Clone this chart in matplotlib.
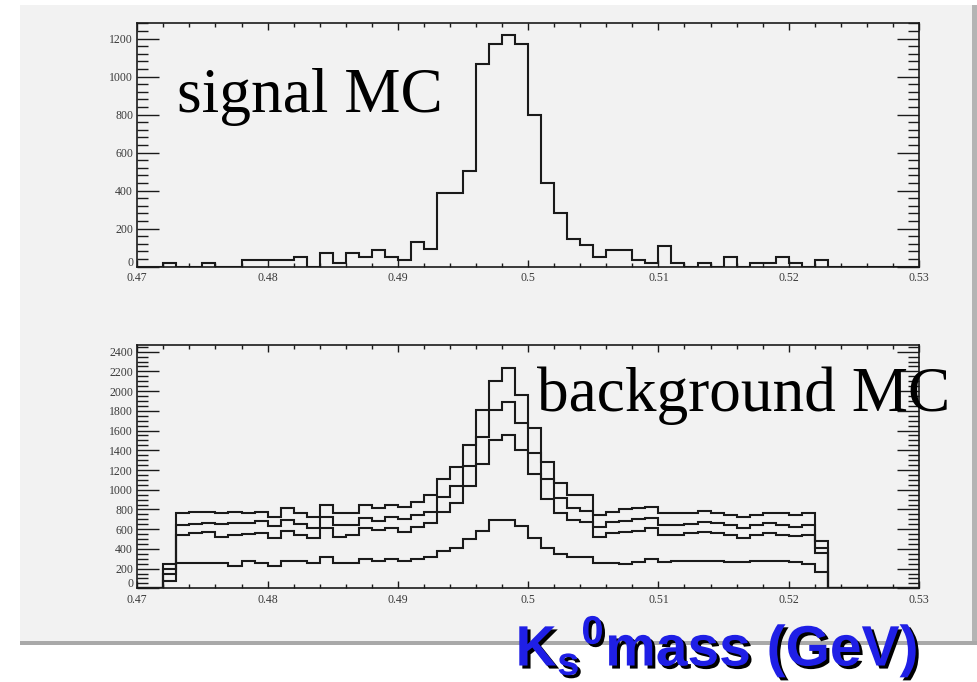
import numpy as np
import matplotlib
matplotlib.use("Agg")
import matplotlib.pyplot as plt
import matplotlib.patheffects as pe
import matplotlib.transforms as mtransforms
from matplotlib.patches import Rectangle
from matplotlib.ticker import MultipleLocator

W, H = 978, 682

# ---------- DATA (60 bins, 0.47 - 0.53 GeV) ----------
edges = np.linspace(0.47, 0.53, 61)

signal_mc = [0, 0, 18, 0, 0, 18, 0, 0, 35, 35,
             35, 35, 53, 0, 70, 18, 70, 53, 88, 53,
             35, 132, 93, 387, 387, 506, 1068, 1172, 1221, 1172,
             800, 439, 285, 146, 112, 51, 86, 86, 35, 18,
             111, 18, 0, 18, 0, 51, 0, 18, 18, 51,
             18, 0, 35, 0, 0, 0, 0, 0, 0, 0]

bkg_1 = [0, 0, 246, 761, 778, 778, 761, 778, 761, 778,
         727, 811, 761, 727, 845, 761, 761, 845, 811, 845,
         828, 879, 947, 1105, 1227, 1457, 1809, 2103, 2231, 1961,
         1623, 1285, 1071, 946, 946, 744, 778, 801, 811, 828,
         761, 761, 761, 788, 767, 744, 727, 744, 761, 761,
         744, 761, 480, 0, 0, 0, 0, 0, 0, 0]

bkg_2 = [0, 0, 193, 642, 652, 666, 652, 659, 666, 683,
         632, 693, 652, 608, 727, 642, 642, 710, 686, 727,
         700, 744, 778, 930, 1041, 1244, 1538, 1809, 1893, 1680,
         1376, 1105, 912, 811, 788, 625, 676, 686, 700, 710,
         642, 642, 652, 676, 659, 642, 608, 642, 659, 642,
         625, 642, 412, 0, 0, 0, 0, 0, 0, 0]

bkg_3 = [0, 0, 142, 541, 558, 568, 524, 541, 551, 558,
         507, 585, 541, 507, 608, 524, 541, 608, 592, 608,
         575, 625, 660, 775, 869, 1041, 1261, 1504, 1555, 1403,
         1160, 903, 767, 693, 676, 524, 558, 575, 585, 608,
         541, 541, 558, 575, 558, 541, 507, 541, 558, 541,
         531, 541, 355, 0, 0, 0, 0, 0, 0, 0]

bkg_4 = [0, 0, 77, 260, 260, 260, 260, 227, 281, 260,
         227, 281, 281, 260, 314, 260, 260, 297, 281, 297,
         281, 294, 314, 382, 412, 497, 585, 688, 696, 632,
         507, 412, 352, 321, 321, 260, 260, 243, 270, 295,
         265, 280, 280, 280, 280, 270, 270, 280, 280, 280,
         270, 243, 162, 0, 0, 0, 0, 0, 0, 0]

x_ticks = [0.47, 0.48, 0.49, 0.50, 0.51, 0.52, 0.53]
x_tick_labels = ['0.47', '0.48', '0.49', '0.5', '0.51', '0.52', '0.53']
sig_yticks = [0, 200, 400, 600, 800, 1000, 1200]
bkg_yticks = [0, 200, 400, 600, 800, 1000, 1200, 1400, 1600, 1800, 2000, 2200, 2400]

# ---------- STYLE ----------
CANVAS = '#f2f2f2'
LINE = '#1a1a1a'
plt.rcParams.update({
    'font.family': 'Liberation Serif',
    'mathtext.fontset': 'custom',
    'mathtext.rm': 'Liberation Sans:bold',
    'mathtext.bf': 'Liberation Sans:bold',
    'axes.linewidth': 1.2,
})

fig = plt.figure(figsize=(W / 100, H / 100), dpi=100)
fig.patch.set_facecolor('white')

# canvas window (grey area + borders)
fig.add_artist(Rectangle((20 / W, 1 - 641 / H), (972 - 20) / W, (641 - 5) / H,
                         transform=fig.transFigure, facecolor=CANVAS,
                         edgecolor='none', zorder=-10))
fig.add_artist(Rectangle((20 / W, 1 - 645 / H), (977 - 20) / W, 4 / H,
                         transform=fig.transFigure, facecolor='#a9a9a9',
                         edgecolor='none', zorder=-9))
fig.add_artist(Rectangle((972 / W, 1 - 641 / H), 5 / W, (641 - 5) / H,
                         transform=fig.transFigure, facecolor='#b4b4b4',
                         edgecolor='none', zorder=-9))


def style_axes(ax, yticks, ymax, yminor):
    ax.set_facecolor(CANVAS)
    ax.set_xlim(0.47, 0.53)
    ax.set_ylim(0, ymax)
    ax.set_xticks(x_ticks)
    ax.set_xticklabels(x_tick_labels)
    ax.set_yticks(yticks)
    ax.set_yticklabels([str(v) for v in yticks])
    ax.xaxis.set_minor_locator(MultipleLocator(0.002))
    ax.yaxis.set_minor_locator(MultipleLocator(yminor))
    ax.tick_params(which='both', direction='in', top=True, right=True,
                   colors=LINE, width=1.0, labelsize=8.5, labelcolor='#3a3a3a')
    ax.xaxis.set_tick_params(which='major', length=5, pad=4)
    ax.xaxis.set_tick_params(which='minor', length=2.8)
    ax.yaxis.set_tick_params(which='major', length=15.8, pad=3)
    ax.yaxis.set_tick_params(which='minor', length=8)
    for s in ax.spines.values():
        s.set_color(LINE)
    # ROOT lifts the "0" label a little so it clears the first x label
    lift = mtransforms.ScaledTranslation(0, 4 / 72, fig.dpi_scale_trans)
    zero = ax.get_yticklabels()[0]
    zero.set_transform(zero.get_transform() + lift)


left = 137.3 / W
width = (919 - 137.3) / W

ax1 = fig.add_axes([left, 1 - 266.7 / H, width, (266.7 - 23) / H])
ax1.stairs(signal_mc, edges, color=LINE, lw=1.5, baseline=0)
style_axes(ax1, sig_yticks, 1282, 40)

ax2 = fig.add_axes([left, 1 - 588.3 / H, width, (588.3 - 345) / H])
for h in [bkg_1, bkg_2, bkg_3, bkg_4]:
    ax2.stairs(h, edges, color=LINE, lw=1.5, baseline=0)
style_axes(ax2, bkg_yticks, 2468, 50)

# ---------- LABELS ----------
fig.text(177 / W, 1 - 112 / H, 'signal MC', fontsize=45.5,
         family='Liberation Serif', va='baseline', ha='left', color='black')
fig.text(537 / W, 1 - 411 / H, 'background MC', fontsize=45.5,
         family='Liberation Serif', va='baseline', ha='left', color='black')

fig.text(918 / W, 1 - 666 / H, r'K$_\mathbf{s}$$^\mathbf{0}$mass (GeV)',
         fontsize=41, family='Liberation Sans', fontweight='bold',
         color='#1f1fe6', va='baseline', ha='right',
         path_effects=[pe.SimplePatchShadow(offset=(2.2, -2.2), shadow_rgbFace='black', alpha=1),
                       pe.Normal()])

fig.savefig('out.png', dpi=100, facecolor=fig.get_facecolor())
